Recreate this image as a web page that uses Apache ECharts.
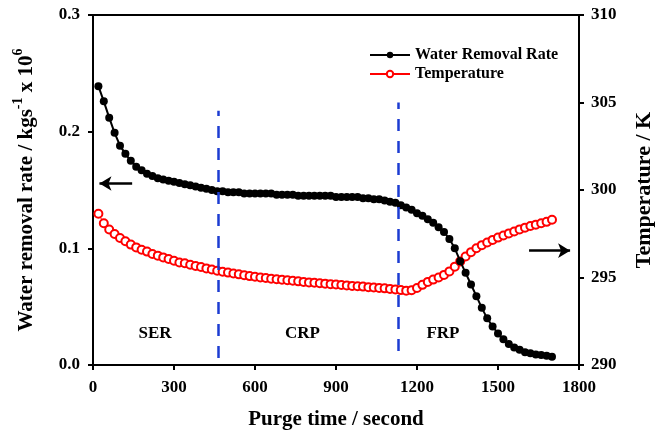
<!DOCTYPE html>
<html>
<head>
<meta charset="utf-8">
<script src="https://cdn.jsdelivr.net/npm/echarts@6/dist/echarts.min.js"></script>
<style>
  html, body { margin: 0; padding: 0; background: #fff; }
  #chart { width: 663px; height: 431px; }
</style>
</head>
<body>
<div id="chart"></div>
<script>
// purge time in seconds, one point every 20 s
const times = [];
for (let t = 20; t <= 1700; t += 20) times.push(t);

const removalRate = [
  0.239, 0.226, 0.212, 0.199, 0.188, 0.181, 0.175, 0.170, 0.167, 0.164,
  0.162, 0.160, 0.159, 0.158, 0.157, 0.156, 0.155, 0.154, 0.153, 0.152,
  0.151, 0.150, 0.149, 0.149, 0.148, 0.148, 0.148, 0.147, 0.147, 0.147,
  0.147, 0.147, 0.147, 0.146, 0.146, 0.146, 0.146, 0.145, 0.145, 0.145,
  0.145, 0.145, 0.145, 0.145, 0.144, 0.144, 0.144, 0.144, 0.144, 0.143,
  0.143, 0.142, 0.142, 0.141, 0.140, 0.139, 0.137, 0.135, 0.133, 0.130,
  0.128, 0.125, 0.122, 0.118, 0.114, 0.108, 0.100, 0.089, 0.079, 0.069,
  0.059, 0.049, 0.040, 0.033, 0.027, 0.022, 0.018, 0.015, 0.013, 0.011,
  0.010, 0.009, 0.0085, 0.008, 0.007
];

const temperature = [
  298.64, 298.10, 297.74, 297.49, 297.26, 297.07, 296.88, 296.72, 296.59, 296.48,
  296.34, 296.25, 296.15, 296.06, 295.96, 295.86, 295.81, 295.73, 295.66, 295.60,
  295.52, 295.46, 295.39, 295.33, 295.28, 295.23, 295.18, 295.13, 295.08, 295.04,
  295.00, 294.97, 294.93, 294.90, 294.87, 294.84, 294.81, 294.78, 294.75, 294.72,
  294.70, 294.67, 294.65, 294.62, 294.60, 294.57, 294.55, 294.52, 294.50, 294.48,
  294.45, 294.43, 294.40, 294.38, 294.35, 294.32, 294.28, 294.25, 294.27, 294.40,
  294.58, 294.75, 294.88, 295.00, 295.15, 295.35, 295.62, 295.92, 296.20, 296.45,
  296.67, 296.85, 297.00, 297.15, 297.28, 297.40, 297.52, 297.63, 297.75, 297.85,
  297.94, 298.02, 298.10, 298.18, 298.30
];

// period boundaries (s) and dashed line extents on the left axis
const boundaries = [[464, 0.006, 0.218], [1132, 0.012, 0.225]];
const periods = [['SER', 230, 0.027], ['CRP', 776, 0.027], ['FRP', 1296, 0.027]];
// arrows pointing to the axis each curve belongs to: [x from, x to, y]
const arrows = [[145, 24, 0.1556], [1615, 1767, 0.098]];

const xTicks = [0, 1800, 300];
const leftTicks = [0, 0.3, 0.1];
const rightTicks = [290, 310, 5];

const FONT = 'Liberation Serif';
const bold = { fontFamily: FONT, fontWeight: 'bold', color: '#000' };

const chart = echarts.init(document.getElementById('chart'), null, { renderer: 'canvas' });

const markLines = [];
boundaries.forEach(b => {
  markLines.push([
    { coord: [b[0], b[1]], lineStyle: { color: '#1c3cd2', width: 2.5, type: [12, 10] }, symbol: 'none' },
    { coord: [b[0], b[2]], symbol: 'none' }
  ]);
});
arrows.forEach(a => {
  markLines.push([
    { coord: [a[0], a[2]], lineStyle: { color: '#000', width: 2.5, type: 'solid' }, symbol: 'none' },
    { coord: [a[1], a[2]], symbol: 'arrow', symbolSize: [11, 12] }
  ]);
});

chart.setOption({
  animation: false,
  backgroundColor: '#fff',
  grid: {
    left: 93, right: 84, top: 15, bottom: 66,
    outerBoundsMode: 'none',
    containLabel: false,
    show: true, borderColor: '#000', borderWidth: 2
  },
  legend: {
    orient: 'vertical',
    left: 364, top: 42,
    itemWidth: 40, itemHeight: 8, itemGap: 3,
    textStyle: Object.assign({ fontSize: 16 }, bold),
    data: ['Water Removal Rate', 'Temperature']
  },
  xAxis: {
    type: 'value',
    min: xTicks[0], max: xTicks[1], interval: xTicks[2],
    name: 'Purge time / second',
    nameLocation: 'middle', nameGap: 44,
    nameTextStyle: Object.assign({ fontSize: 21 }, bold),
    axisLine: { lineStyle: { color: '#000', width: 2 } },
    axisTick: { inside: false, length: 5, lineStyle: { width: 2 } },
    axisLabel: Object.assign({ fontSize: 17, margin: 14, formatter: v => String(v) }, bold),
    splitLine: { show: false }
  },
  yAxis: [{
    type: 'value',
    min: leftTicks[0], max: leftTicks[1], interval: leftTicks[2],
    name: '{n|Water removal rate / kgs}{s|-1}{n| x 10}{s|6}',
    nameLocation: 'middle', nameGap: 56, nameRotate: 90,
    nameTextStyle: {
      rich: {
        n: Object.assign({ fontSize: 21, lineHeight: 26, verticalAlign: 'bottom' }, bold),
        s: Object.assign({ fontSize: 14, lineHeight: 26, verticalAlign: 'top' }, bold)
      }
    },
    axisLine: { show: true, lineStyle: { color: '#000', width: 2 } },
    axisTick: { show: true, length: 5, lineStyle: { width: 2 } },
    axisLabel: Object.assign({ fontSize: 17, margin: 13, formatter: v => v.toFixed(1) }, bold),
    splitLine: { show: false }
  }, {
    type: 'value',
    position: 'right',
    min: rightTicks[0], max: rightTicks[1], interval: rightTicks[2],
    name: 'Temperature / K',
    nameLocation: 'middle', nameGap: 54, nameRotate: 90,
    nameTextStyle: Object.assign({ fontSize: 22 }, bold),
    axisLine: { show: true, lineStyle: { color: '#000', width: 2 } },
    axisTick: { show: true, length: 5, lineStyle: { width: 2 } },
    axisLabel: Object.assign({ fontSize: 17, margin: 12 }, bold),
    splitLine: { show: false }
  }],
  series: [{
    name: 'Water Removal Rate',
    type: 'line',
    yAxisIndex: 0,
    data: times.map((t, i) => [t, removalRate[i]]),
    symbol: 'circle',
    symbolSize: 8,
    itemStyle: { color: '#000' },
    lineStyle: { color: '#000', width: 2 },
    z: 3,
    markLine: {
      silent: true,
      animation: false,
      label: { show: false },
      data: markLines
    },
    markPoint: {
      symbol: 'rect',
      symbolSize: 1,
      itemStyle: { color: 'rgba(0,0,0,0)' },
      label: Object.assign({ show: true, position: 'inside', fontSize: 17, formatter: p => p.name }, bold),
      data: periods.map(p => ({ name: p[0], coord: [p[1], p[2]] }))
    }
  }, {
    name: 'Temperature',
    type: 'line',
    yAxisIndex: 1,
    data: times.map((t, i) => [t, temperature[i]]),
    symbol: 'emptyCircle',
    symbolSize: 8,
    itemStyle: { color: '#ff0000', borderWidth: 1.2 },
    lineStyle: { color: '#ff0000', width: 1 },
    z: 2
  }]
});
</script>
</body>
</html>
